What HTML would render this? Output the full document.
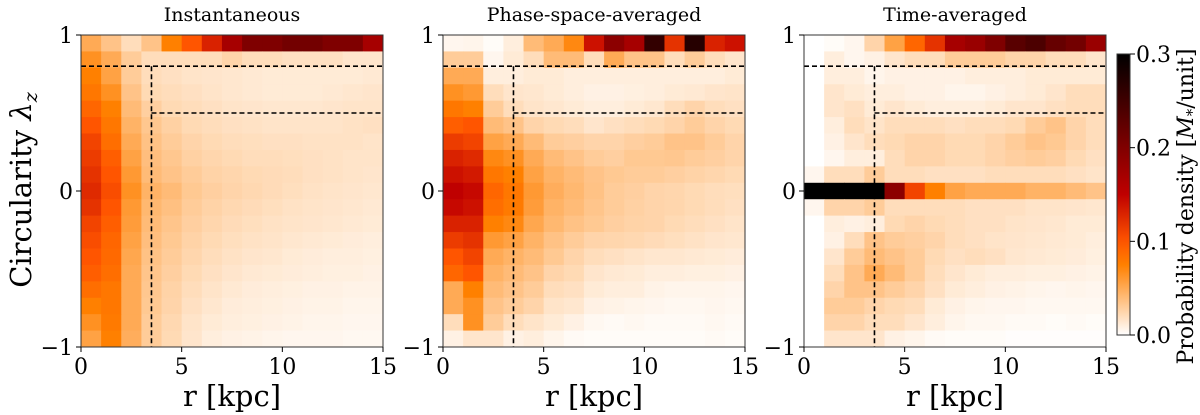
<!DOCTYPE html>
<html><head><meta charset="utf-8"><style>
body{margin:0;background:#fff;}
svg{display:block;font-family:"DejaVu Serif","Liberation Serif",serif;}
</style></head><body>
<svg id="fig" width="1200" height="415" viewBox="0 0 1200 415"></svg>
<script>
const rBins=[0,1,2,3,4,5,6,7,8,9,10,11,12,13,14,15];
const xTicks=[0,5,10,15];
const yTicks=[1,0,-1];
const cbTicks=[0.0,0.1,0.2,0.3];
const titles=["Instantaneous","Phase-space-averaged","Time-averaged"];
const instData=[
[0.05,0.035,0.02,0.035,0.075,0.1,0.13,0.17,0.2,0.2,0.21,0.21,0.2,0.2,0.17],
[0.065,0.05,0.03,0.02,0.02,0.02,0.02,0.025,0.02,0.02,0.018,0.018,0.018,0.015,0.015],
[0.075,0.055,0.03,0.02,0.018,0.016,0.015,0.014,0.013,0.012,0.012,0.012,0.012,0.012,0.013],
[0.08,0.065,0.035,0.022,0.02,0.018,0.016,0.014,0.013,0.012,0.012,0.012,0.013,0.014,0.015],
[0.09,0.075,0.04,0.028,0.022,0.02,0.018,0.016,0.015,0.014,0.014,0.014,0.015,0.016,0.016],
[0.1,0.08,0.045,0.033,0.027,0.022,0.02,0.018,0.017,0.016,0.016,0.016,0.016,0.017,0.018],
[0.11,0.085,0.05,0.036,0.03,0.025,0.022,0.02,0.019,0.018,0.018,0.017,0.017,0.017,0.016],
[0.115,0.095,0.055,0.038,0.033,0.027,0.024,0.022,0.02,0.02,0.019,0.018,0.017,0.016,0.016],
[0.12,0.1,0.06,0.04,0.035,0.03,0.026,0.024,0.022,0.021,0.02,0.018,0.017,0.016,0.015],
[0.125,0.105,0.065,0.045,0.04,0.032,0.028,0.025,0.023,0.021,0.019,0.017,0.016,0.015,0.014],
[0.12,0.1,0.06,0.042,0.037,0.03,0.026,0.023,0.021,0.019,0.017,0.016,0.015,0.014,0.013],
[0.11,0.095,0.058,0.04,0.034,0.028,0.024,0.021,0.019,0.017,0.016,0.015,0.014,0.013,0.012],
[0.105,0.09,0.055,0.038,0.032,0.026,0.022,0.019,0.017,0.016,0.014,0.013,0.012,0.011,0.01],
[0.1,0.088,0.052,0.036,0.03,0.024,0.02,0.017,0.015,0.014,0.012,0.011,0.01,0.01,0.009],
[0.095,0.085,0.05,0.034,0.028,0.022,0.018,0.015,0.013,0.012,0.011,0.01,0.009,0.009,0.008],
[0.085,0.08,0.05,0.033,0.026,0.02,0.016,0.013,0.011,0.01,0.009,0.008,0.008,0.007,0.007],
[0.075,0.08,0.05,0.032,0.025,0.018,0.014,0.011,0.01,0.009,0.008,0.007,0.007,0.006,0.006],
[0.065,0.078,0.05,0.03,0.023,0.016,0.012,0.01,0.009,0.008,0.007,0.006,0.006,0.005,0.005],
[0.055,0.075,0.048,0.03,0.022,0.015,0.01,0.008,0.007,0.006,0.005,0.005,0.005,0.004,0.004]];
const phaseData=[
[0.005,0.006,0.002,0.01,0.04,0.05,0.07,0.14,0.19,0.17,0.26,0.12,0.27,0.13,0.14],
[0.03,0.03,0.005,0.012,0.02,0.04,0.04,0.02,0.05,0.035,0.035,0.02,0.03,0.02,0.015],
[0.05,0.05,0.01,0.01,0.012,0.012,0.01,0.01,0.01,0.01,0.01,0.01,0.01,0.01,0.012],
[0.065,0.06,0.02,0.015,0.014,0.012,0.01,0.008,0.008,0.009,0.01,0.012,0.013,0.015,0.016],
[0.08,0.075,0.03,0.02,0.016,0.014,0.012,0.01,0.01,0.012,0.014,0.02,0.025,0.02,0.018],
[0.095,0.1,0.04,0.035,0.025,0.022,0.02,0.015,0.018,0.02,0.022,0.025,0.03,0.025,0.022],
[0.115,0.11,0.055,0.05,0.04,0.03,0.028,0.025,0.025,0.028,0.03,0.035,0.035,0.03,0.025],
[0.13,0.125,0.07,0.065,0.05,0.04,0.035,0.03,0.028,0.032,0.032,0.033,0.03,0.028,0.025],
[0.14,0.135,0.08,0.075,0.055,0.045,0.04,0.035,0.032,0.03,0.03,0.028,0.026,0.024,0.022],
[0.15,0.145,0.09,0.08,0.06,0.048,0.042,0.036,0.03,0.028,0.025,0.024,0.022,0.02,0.019],
[0.145,0.14,0.085,0.078,0.058,0.045,0.04,0.034,0.03,0.027,0.025,0.024,0.022,0.02,0.018],
[0.13,0.13,0.075,0.07,0.052,0.042,0.036,0.032,0.028,0.026,0.025,0.022,0.02,0.018,0.016],
[0.115,0.12,0.06,0.055,0.045,0.036,0.03,0.025,0.024,0.023,0.021,0.019,0.017,0.015,0.014],
[0.1,0.11,0.05,0.045,0.04,0.032,0.025,0.02,0.018,0.016,0.014,0.014,0.013,0.012,0.011],
[0.09,0.1,0.045,0.04,0.035,0.025,0.022,0.015,0.013,0.012,0.01,0.01,0.009,0.009,0.008],
[0.05,0.075,0.04,0.035,0.03,0.02,0.018,0.012,0.01,0.01,0.007,0.006,0.006,0.006,0.005],
[0.05,0.065,0.035,0.03,0.025,0.016,0.014,0.008,0.007,0.006,0.005,0.004,0.004,0.005,0.004],
[0.02,0.065,0.03,0.02,0.016,0.012,0.008,0.004,0.003,0.004,0.003,0.003,0.003,0.004,0.003],
[0.008,0.015,0.015,0.008,0.01,0.006,0.003,0.002,0.002,0.002,0.002,0.002,0.002,0.003,0.002]];
const timeData=[
[0,0.002,0.005,0.025,0.055,0.09,0.12,0.17,0.18,0.2,0.23,0.24,0.22,0.21,0.18],
[0,0.01,0.005,0.008,0.015,0.02,0.02,0.03,0.03,0.03,0.025,0.025,0.02,0.02,0.015],
[0,0.01,0.01,0.006,0.008,0.008,0.008,0.008,0.01,0.01,0.01,0.012,0.012,0.012,0.012],
[0,0.015,0.012,0.01,0.01,0.008,0.008,0.006,0.006,0.008,0.01,0.012,0.015,0.02,0.02],
[0,0.015,0.018,0.012,0.015,0.012,0.01,0.01,0.01,0.012,0.015,0.015,0.018,0.02,0.02],
[0,0.01,0.02,0.016,0.02,0.02,0.02,0.018,0.02,0.02,0.022,0.03,0.035,0.025,0.02],
[0,0.008,0.015,0.02,0.022,0.025,0.025,0.022,0.022,0.025,0.03,0.035,0.032,0.025,0.02],
[0,0.005,0.01,0.01,0.02,0.025,0.025,0.022,0.022,0.025,0.028,0.03,0.028,0.022,0.018],
[0.005,0.02,0.02,0.03,0.02,0.02,0.018,0.018,0.018,0.02,0.02,0.02,0.02,0.018,0.016],
[0.3,0.3,0.3,0.3,0.19,0.11,0.075,0.055,0.05,0.05,0.05,0.045,0.045,0.04,0.035],
[0.005,0.025,0.025,0.03,0.02,0.02,0.02,0.02,0.018,0.018,0.018,0.016,0.016,0.015,0.014],
[0,0.01,0.008,0.01,0.022,0.025,0.022,0.02,0.018,0.018,0.016,0.015,0.014,0.012,0.012],
[0,0.008,0.02,0.035,0.03,0.028,0.025,0.02,0.018,0.016,0.015,0.014,0.013,0.012,0.01],
[0,0.015,0.03,0.04,0.035,0.03,0.022,0.018,0.02,0.018,0.014,0.013,0.012,0.011,0.009],
[0,0.02,0.035,0.05,0.04,0.03,0.02,0.015,0.012,0.01,0.01,0.009,0.009,0.008,0.007],
[0,0.025,0.035,0.035,0.03,0.025,0.018,0.012,0.01,0.008,0.007,0.006,0.005,0.006,0.005],
[0,0.03,0.03,0.025,0.022,0.02,0.012,0.008,0.006,0.005,0.005,0.004,0.004,0.004,0.004],
[0,0.025,0.025,0.02,0.02,0.015,0.01,0.006,0.004,0.004,0.003,0.003,0.002,0.003,0.002],
[0,0.015,0.015,0.015,0.008,0.006,0.003,0.002,0.002,0.002,0.001,0.001,0.001,0.001,0.001]];
const panelsData=[instData,phaseData,timeData];
const vmax=0.3;

const NS="http://www.w3.org/2000/svg";
const svg=document.getElementById('fig');
function mk(tag,attrs,parent){const e=document.createElementNS(NS,tag);for(const k in attrs)e.setAttribute(k,attrs[k]);(parent||svg).appendChild(e);return e;}
function cmap(v){let t=Math.max(0,Math.min(1,v/vmax));const x=1-t;
 const r=Math.min(1,1.5*x),g=Math.max(0,Math.min(1,2*x-1)),b=Math.max(0,Math.min(1,4*x-3));
 return `rgb(${Math.round(r*255)},${Math.round(g*255)},${Math.round(b*255)})`;}

const panelLeft=[81,443,804];
const PW=302, PT=35, PH=312;
panelsData.forEach((data,p)=>{
 const L=panelLeft[p];
 const xs=r=>L+r/15*PW;
 const ys=l=>PT+(1-l)/2*PH;
 const g=mk('g',{});
 
 
 const nRows=data.length;
 const dl=2/nRows;
 data.forEach((row,i)=>{
  const top=1-i*dl, bot=1-(i+1)*dl;
  row.forEach((v,j)=>{
   const x0=xs(rBins[j]),x1=xs(rBins[j+1]);
   const c=mk('rect',{x:x0,y:ys(top),width:x1-x0+0.5,height:ys(bot)-ys(top)+0.5,fill:cmap(v)},g);
   
   
  });
 });
 const dash={stroke:'#000','stroke-width':1.6,'stroke-dasharray':'5,3',fill:'none'};
 const d1=mk('line',Object.assign({x1:xs(0),x2:xs(15),y1:ys(0.8),y2:ys(0.8)},dash),g);
 
 
 const d2=mk('line',Object.assign({x1:xs(3.5),x2:xs(15),y1:ys(0.5),y2:ys(0.5)},dash),g);
 
 
 const d3=mk('line',Object.assign({x1:xs(3.5),x2:xs(3.5),y1:ys(0.8),y2:ys(-1)},dash),g);
 
 
 const fr=mk('rect',{x:L,y:PT,width:PW,height:PH,fill:'none',stroke:'#333','stroke-width':1},g);
 
 
 xTicks.forEach(t=>{
  mk('line',{x1:xs(t),x2:xs(t),y1:PT+PH,y2:PT+PH+5,stroke:'#000'},g);
  const tx=mk('text',{x:xs(t),y:374,'font-size':22,'text-anchor':'middle'},g);
  tx.textContent=t;
  
  
 });
 yTicks.forEach(t=>{
  mk('line',{x1:L-5,x2:L,y1:ys(t),y2:ys(t),stroke:'#000'},g);
  const tx=mk('text',{x:L-8,y:ys(t)+8,'font-size':22,'text-anchor':'end'},g);
  tx.textContent=t<0?'\u2212'+Math.abs(t):t;
  
  
 });
 const ti=mk('text',{x:L+PW/2,y:21,'font-size':19,'text-anchor':'middle'},g);
 ti.textContent=titles[p];
 
 
 const xl=mk('text',{x:L+PW/2,y:406,'font-size':29,'text-anchor':'middle'},g);
 xl.textContent='r [kpc]';
 
 
});
const yl=mk('text',{x:0,y:0,'font-size':29,'text-anchor':'middle',transform:'translate(31,190) rotate(-90)'});
yl.innerHTML='Circularity <tspan font-style="italic">λ</tspan><tspan font-size="19" font-style="italic" dy="6">z</tspan>';



// colorbar
const CBX=1117,CBW=13,CBT=54,CBB=335;
const cb=mk('g',{});


const defs=mk('defs',{});
const grad=mk('linearGradient',{id:'cbg',x1:0,y1:1,x2:0,y2:0},defs);
for(let i=0;i<=20;i++){mk('stop',{offset:i/20,'stop-color':cmap(vmax*i/20)},grad);}
mk('rect',{x:CBX,y:CBT,width:CBW,height:CBB-CBT,fill:'url(#cbg)',stroke:'#333','stroke-width':1},cb);
cbTicks.forEach(t=>{
 const y=CBB-t/vmax*(CBB-CBT);
 mk('line',{x1:CBX+CBW,x2:CBX+CBW+5,y1:y,y2:y,stroke:'#000'},cb);
 const tx=mk('text',{x:CBX+CBW+6,y:y+8,'font-size':22},cb);
 tx.textContent=t.toFixed(1);
 
 
});
const cl=mk('text',{x:0,y:0,'font-size':22,'text-anchor':'middle',transform:`translate(1193,${(CBT+CBB)/2+12}) rotate(-90)`},cb);
cl.innerHTML='Probability density [<tspan font-style="italic">M</tspan><tspan font-size="15" dy="4">*</tspan><tspan dy="-4">/unit]</tspan>';


</script>
</body></html>
